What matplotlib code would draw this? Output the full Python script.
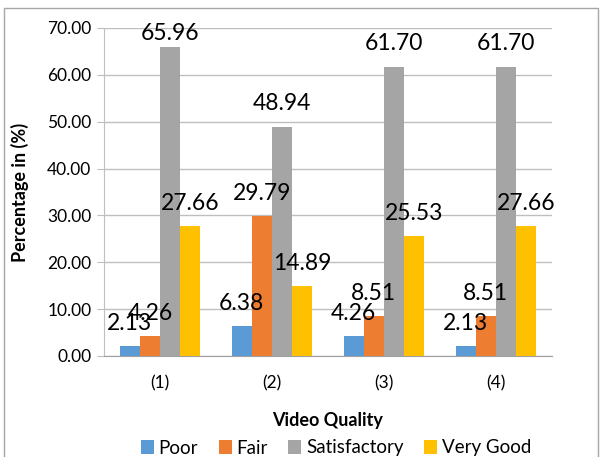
import numpy as np
import matplotlib.pyplot as plt
from matplotlib.patches import Rectangle

plt.rcParams['font.family'] = ['Lato', 'DejaVu Sans']

groups = ['(1)', '(2)', '(3)', '(4)']
series = ['Poor', 'Fair', 'Satisfactory', 'Very Good']
poor = [2.13, 6.38, 4.26, 2.13]
fair = [4.26, 29.79, 8.51, 8.51]
satisfactory = [65.96, 48.94, 61.70, 61.70]
very_good = [27.66, 14.89, 25.53, 27.66]
colors = ['#5B9BD5', '#ED7D31', '#A5A5A5', '#FFC000']

fig = plt.figure(figsize=(6.02, 4.57), dpi=100)
ax = fig.add_axes([104 / 602, 1 - 356 / 457, 448 / 602, 328 / 457])

x = np.arange(len(groups))
w = 0.18
label_cap = 64  # labels near the top get pushed down inside the chart, like Excel does
for i, (name, vals) in enumerate(zip(series, [poor, fair, satisfactory, very_good])):
    pos = x + (i - 1.5) * w
    ax.bar(pos, vals, w, color=colors[i], label=name, zorder=3)
    for p, v in zip(pos, vals):
        ax.annotate(f'{v:.2f}', (p, min(v, label_cap)), xytext=(0, 9), textcoords='offset points',
                    ha='center', va='bottom', fontsize=16.5, zorder=4, annotation_clip=False)

ax.set_xlim(-0.5, 3.5)
ax.set_ylim(0, 70)
ax.set_yticks(np.arange(0, 71, 10))
ax.set_yticklabels([f'{t:.2f}' for t in np.arange(0, 71, 10)], fontsize=12.5)
ax.set_xticks(x)
ax.set_xticklabels(groups, fontsize=12.5)
ax.tick_params(axis='x', length=0, pad=14)
ax.tick_params(axis='y', length=5, color='#BFBFBF', pad=4)
ax.yaxis.grid(True, color='#BFBFBF', linewidth=1, zorder=0)
for s in ['top', 'right']:
    ax.spines[s].set_visible(False)
ax.spines['left'].set_color('#BFBFBF')
ax.spines['bottom'].set_color('#A0A0A0')

ax.set_ylabel('Percentage in (%)', fontsize=13, fontweight='bold')
ax.yaxis.set_label_coords(-0.168, 0.5)
ax.set_xlabel('Video Quality', fontsize=13, fontweight='bold', labelpad=15)

fig.legend(loc='center', bbox_to_anchor=(336 / 602, 1 - 448 / 457), ncol=4, frameon=False,
           fontsize=13.5, handlelength=0.7, handleheight=0.7, handletextpad=0.25, columnspacing=1.1)

fig.patches.append(Rectangle((4 / 602, -0.01), 594 / 602, 1 - 8 / 457 + 0.01, transform=fig.transFigure,
                             fill=False, edgecolor='#A6A6A6', linewidth=1))

fig.savefig('out.png', dpi=100)
